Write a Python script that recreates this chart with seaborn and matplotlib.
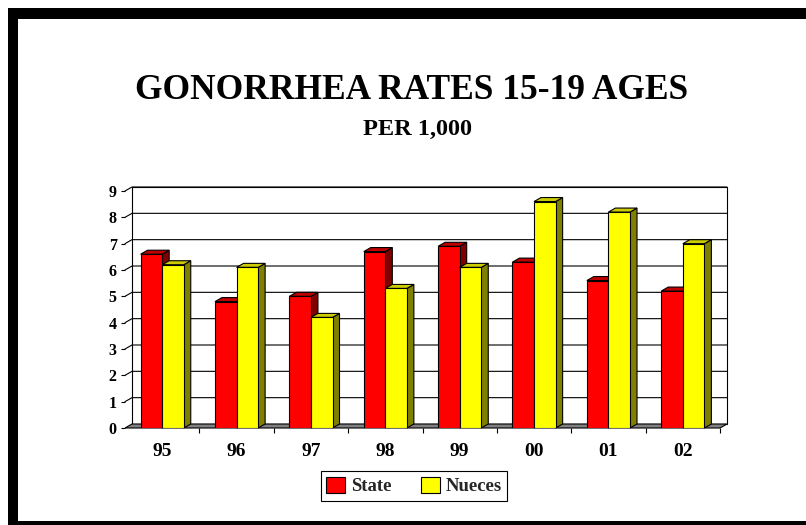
import matplotlib.patches as mpatches
import matplotlib.pyplot as plt
import numpy as np
import pandas as pd
import seaborn as sns

W, H, DPI = 806, 525, 100

years = ["95", "96", "97", "98", "99", "00", "01", "02"]
state = [6.6, 4.8, 5.0, 6.7, 6.9, 6.3, 5.6, 5.2]
nueces = [6.2, 6.1, 4.2, 5.3, 6.1, 8.6, 8.2, 7.0]
series = ["State", "Nueces"]
y_ticks = list(range(10))

front_colors = {"State": "#FF0000", "Nueces": "#FFFF00"}
top_colors = {"State": "#C00000", "Nueces": "#CCCC00"}
side_colors = {"State": "#800000", "Nueces": "#808000"}

sns.set_theme(style="white")
plt.rcParams["font.family"] = ["Liberation Serif", "DejaVu Serif"]
plt.rcParams["font.weight"] = "bold"

df = pd.DataFrame({
    "year": years * 2,
    "rate": state + nueces,
    "series": ["State"] * len(years) + ["Nueces"] * len(years),
})

fig = plt.figure(figsize=(W / DPI, H / DPI), dpi=DPI)
fig.patch.set_facecolor("white")
# axes = front plane of the 3d box
ax = fig.add_axes([125 / W, 1 - 428 / H, 595 / W, 237 / H])

sns.barplot(
    data=df, x="year", y="rate", hue="series", order=years, hue_order=series,
    palette=front_colors, width=0.58, saturation=1, edgecolor="black",
    linewidth=0.8, errorbar=None, legend=False, ax=ax,
)
ax.set_xlim(-0.5, 7.5)
ax.set_ylim(0, 9)
ax.patch.set_visible(False)
for sp in ax.spines.values():
    sp.set_visible(False)

# depth offset of the fake 3d box, in data units
dx = 7 / 74.4
dy = 4 / 26.33

wall = mpatches.Rectangle((-0.5 + dx, dy), 8, 9, facecolor="white", edgecolor="black",
                          lw=0.8, zorder=0.5, clip_on=False)
ax.add_patch(wall)
for v in y_ticks[1:]:
    ax.plot([-0.5, -0.5 + dx, 7.5 + dx], [v, v + dy, v + dy], color="black", lw=0.8,
            zorder=0.6, clip_on=False)
floor = mpatches.Polygon([(-0.5, 0), (7.5, 0), (7.5 + dx, dy), (-0.5 + dx, dy)],
                         facecolor="#808080", edgecolor="black", lw=0.8, zorder=0.7,
                         clip_on=False)
ax.add_patch(floor)

for k, name in enumerate(series):
    base = 2 + k
    for bar in ax.containers[k]:
        x0, w, h = bar.get_x(), bar.get_width(), bar.get_height()
        top = [(x0, h), (x0 + w, h), (x0 + w + dx, h + dy), (x0 + dx, h + dy)]
        side = [(x0 + w, 0), (x0 + w + dx, dy), (x0 + w + dx, h + dy), (x0 + w, h)]
        ax.add_patch(mpatches.Polygon(side, facecolor=side_colors[name], edgecolor="black",
                                      lw=0.8, zorder=base + 0.1, clip_on=False))
        ax.add_patch(mpatches.Polygon(top, facecolor=top_colors[name], edgecolor="black",
                                      lw=0.8, zorder=base + 0.1, clip_on=False))
        bar.set_zorder(base + 0.2)

ax.set_xlabel("")
ax.set_ylabel("")
ax.set_yticks(y_ticks)
ax.set_xticks(range(len(years)), labels=years)
ax.set_xticks(np.arange(0.5, len(years), 1), minor=True)
ax.tick_params(axis="y", left=True, length=3, width=0.8, color="black", pad=3,
               labelsize=11.5, labelcolor="black")
ax.tick_params(axis="x", which="major", bottom=True, length=0, pad=11, labelsize=14,
               labelcolor="black")
ax.tick_params(axis="x", which="minor", bottom=True, length=3.6, width=0.8, color="black")
ax.grid(False)

fig.text(412 / W, 1 - 99 / H, "GONORRHEA RATES 15-19 AGES", ha="center", va="baseline",
         fontsize=25.5, fontweight="bold", color="black")
fig.text(417 / W, 1 - 135 / H, "PER 1,000", ha="center", va="baseline",
         fontsize=17.5, fontweight="bold", color="black")

handles = [mpatches.Patch(facecolor=front_colors[s], edgecolor="black", lw=0.8) for s in series]
leg = fig.legend(handles, series, loc="center", bbox_to_anchor=(414 / W, 1 - 486 / H),
                 ncol=2, fontsize=13.5, frameon=True, fancybox=False, framealpha=1,
                 edgecolor="black", handlelength=1.0, handleheight=1.0,
                 handletextpad=0.3, columnspacing=1.6, borderpad=0.3,
                 borderaxespad=0)
leg.get_frame().set_linewidth(0.8)

# slide frame
for rect in [(8, 8, W - 8, 11), (8, 8, 10, H - 8), (8, H - 4, W - 8, 4)]:
    x, y, w, h = rect
    fig.patches.append(mpatches.Rectangle((x / W, 1 - (y + h) / H), w / W, h / H,
                                          transform=fig.transFigure, facecolor="black",
                                          edgecolor="none"))

fig.savefig("out.png", dpi=DPI)
